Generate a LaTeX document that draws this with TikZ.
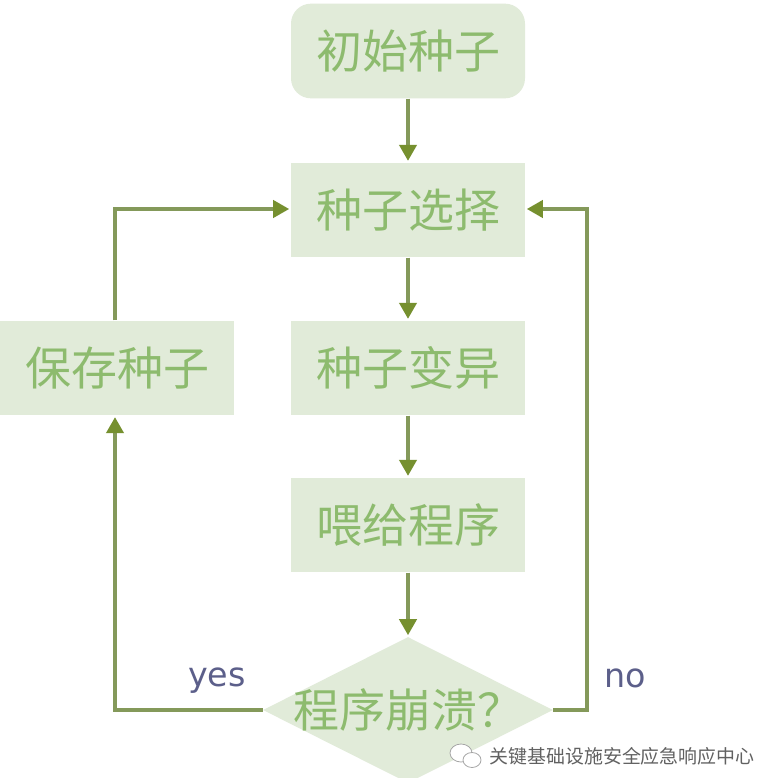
\documentclass[tikz,border=0pt]{standalone}
\usepackage{fontspec}
\setmainfont{Liberation Sans}
\newfontfamily\cjk{Noto Sans CJK SC}
\newfontfamily\lat{DejaVu Sans}
\usetikzlibrary{shapes.geometric,arrows.meta}
\definecolor{boxfill}{HTML}{E1EBD9}
\definecolor{boxtxt}{HTML}{8DBB6E}
\definecolor{linec}{HTML}{84995A}
\definecolor{tipc}{HTML}{76902F}
\definecolor{labc}{HTML}{5C5F8A}
\tikzset{
 px/.style={x=0.75pt,y=-0.75pt},
 sbox/.style={fill=boxfill,minimum width=175.5pt,minimum height=71pt,inner sep=0pt,font=\cjk\fontsize{34.5pt}{36pt}\selectfont,text=boxtxt},
 rbox/.style={sbox,rounded corners=15pt},
 dia/.style={diamond,aspect=2,fill=boxfill,minimum width=217.5pt,minimum height=109.5pt,inner sep=0pt},
 dtext/.style={inner sep=0pt,font=\cjk\fontsize{34.5pt}{36pt}\selectfont,text=boxtxt},
 conn/.style={draw=linec,line width=2.4pt,shorten >=1.2pt,-{Triangle[length=12pt,width=13pt,color=tipc]}},
 lab/.style={font=\lat\fontsize{25pt}{28pt}\selectfont,text=labc},
 bubble/.style={fill=white,draw=gray!70,line width=0.6pt}
}
\begin{document}
\begin{tikzpicture}[px]
\useasboundingbox (0,0) rectangle (780,777);
\clip (0,0) rectangle (780,777);
\fill[white] (0,0) rectangle (780,777);
\node[rbox] (a) at (408,51) {初始种子};
\node[sbox] (b) at (408,210) {种子选择};
\node[sbox] (c) at (408,368) {种子变异};
\node[sbox] (d) at (408,525) {喂给程序};
\node[sbox] (s) at (117,368) {保存种子};
\node[dia] (e) at (408,710) {};
\node[dtext] (et) at (e.center) {程序崩溃？};
\coordinate (lc) at (115,710);
\coordinate (lt) at (115,209);
\coordinate (rc) at (587,710);
\coordinate (rt) at (587,209);
\draw[conn] (a) -- (b);
\draw[conn] (b) -- (c);
\draw[conn] (c) -- (d);
\draw[conn] (d) -- (e);
\draw[conn] (e.west) -- (lc) -- (lc |- s.south);
\draw[conn] (lt |- s.north) -- (lt) -- (lt -| b.west);
\draw[conn] (e.east) -- (rc) -- (rt) -- (rt -| b.east);
\node[lab] (y) at (217,681) {yes};
\node[lab] (n) at (625,678) {no};
\path[bubble] (461,753) ellipse (11 and 9);
\path[bubble] (472,760) ellipse (9 and 7.5);
\node[font=\cjk\fontsize{14.2pt}{17pt}\selectfont,text=black!62] (w) at (622,756) {关键基础设施安全应急响应中心};
\end{tikzpicture}
\end{document}
